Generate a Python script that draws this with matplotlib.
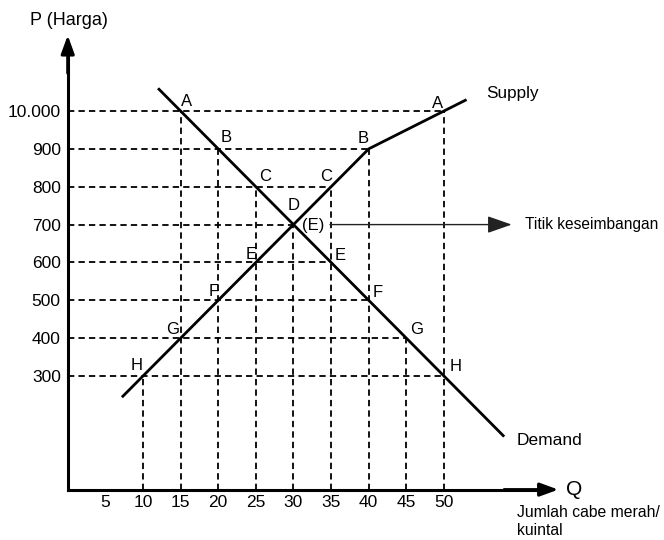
import matplotlib
matplotlib.use("Agg")
import matplotlib.pyplot as plt
from matplotlib import font_manager

# Data
qty_demand = [15, 20, 25, 30, 35, 40, 45, 50]
price_demand = [1000, 900, 800, 700, 600, 500, 400, 300]
labels_demand = ['A', 'B', 'C', 'D', 'E', 'F', 'G', 'H']
demand_ends_q = [12, 58]
demand_ends_p = [1060, 140]

qty_supply = [10, 15, 20, 25, 30, 35, 40, 50]
price_supply = [300, 400, 500, 600, 700, 800, 900, 1000]
labels_supply = ['H', 'G', 'F', 'E', '(E)', 'C', 'B', 'A']
supply_ends_q = [7.2, 53]
supply_ends_p = [244, 1030]

x_ticks = [5, 10, 15, 20, 25, 30, 35, 40, 45, 50]
y_ticks = [300, 400, 500, 600, 700, 800, 900, 1000]
y_ticklabels = ['300', '400', '500', '600', '700', '800', '900', '10.000']

eq_q, eq_p = 30, 700

# label offsets in pixels (styling only)
off_demand = [(6, 10), (8, 11), (9, 10), (0, 19), (9, 7), (9, 8), (10, 9), (12, 10)]
off_supply = [(-6, 11), (-8, 9), (-5, 9), (-5, 8), (20, -1), (-5, 10), (-6, 10), (-6, 8)]

names = {f.name for f in font_manager.fontManager.ttflist}
FONT = 'Liberation Sans Narrow' if 'Liberation Sans Narrow' in names else 'Liberation Sans'
plt.rcParams['font.family'] = [FONT, 'DejaVu Sans']

fig = plt.figure(figsize=(6.64, 5.4), dpi=100)
ax = fig.add_axes([0, 0, 1, 1])
ax.set_xlim(-9.0, 79.24)
ax.set_ylim(-133.1, 1293.2)

# axes with arrows
for s in ['top', 'right']:
    ax.spines[s].set_visible(False)
ax.spines['left'].set_position(('data', 0))
ax.spines['bottom'].set_position(('data', 0))
ax.spines['left'].set_bounds(0, 1170)
ax.spines['bottom'].set_bounds(0, 63)
ax.spines['left'].set_linewidth(2.2)
ax.spines['bottom'].set_linewidth(2.2)
arrow = dict(arrowstyle='-|>,head_length=0.55,head_width=0.2', color='k',
             lw=2.2, mutation_scale=20, shrinkA=0, shrinkB=0)
ax.annotate('', xy=(0, 1200), xytext=(0, 1100), arrowprops=arrow)
ax.annotate('', xy=(65.2, 0), xytext=(58, 0), arrowprops=arrow)

ax.set_xticks(x_ticks)
ax.set_xticklabels([str(v) for v in x_ticks])
ax.set_yticks(y_ticks)
ax.set_yticklabels(y_ticklabels)
ax.tick_params(axis='both', length=0, labelsize=12.5)
ax.tick_params(axis='x', pad=4)
ax.tick_params(axis='y', pad=5)

# dashed guide lines
dash = dict(color='k', lw=1.3, linestyle=(0, (3.5, 2.3)))
all_q = qty_demand + qty_supply
all_p = price_demand + price_supply
for p in sorted(set(all_p)):
    qmax = max(q for q, pp in zip(all_q, all_p) if pp == p)
    ax.plot([0, qmax], [p, p], **dash)
for q in sorted(set(all_q)):
    pmax = max(pp for qq, pp in zip(all_q, all_p) if qq == q)
    ax.plot([q, q], [0, pmax], **dash)

# demand and supply lines
dq = [demand_ends_q[0]] + qty_demand + [demand_ends_q[1]]
dp = [demand_ends_p[0]] + price_demand + [demand_ends_p[1]]
sq = [supply_ends_q[0]] + qty_supply + [supply_ends_q[1]]
sp = [supply_ends_p[0]] + price_supply + [supply_ends_p[1]]
ax.plot(dq, dp, color='k', lw=2.0, solid_capstyle='butt')
ax.plot(sq, sp, color='k', lw=2.0, solid_capstyle='butt', solid_joinstyle='miter')

for q, p, lab, off in zip(qty_demand, price_demand, labels_demand, off_demand):
    ax.annotate(lab, (q, p), xytext=off, textcoords='offset pixels',
                ha='center', va='center', fontsize=12)
for q, p, lab, off in zip(qty_supply, price_supply, labels_supply, off_supply):
    ax.annotate(lab, (q, p), xytext=off, textcoords='offset pixels',
                ha='center', va='center', fontsize=12)

# equilibrium arrow
ax.annotate('', xy=(59.0, eq_p), xytext=(34.85, eq_p),
            arrowprops=dict(arrowstyle='-|>,head_length=1.0,head_width=0.35',
                            color='#222222', lw=1.0, mutation_scale=15,
                            shrinkA=0, shrinkB=0))
ax.text(60.8, eq_p, 'Titik keseimbangan', ha='left', va='center', fontsize=11.2)

ax.text(55.6, 1047, 'Supply', ha='left', va='center', fontsize=12.3)
ax.text(59.7, 131, 'Demand', ha='left', va='center', fontsize=12.5)
ax.text(-5.0, 1240, 'P (Harga)', ha='left', va='center', fontsize=13)
ax.text(66.2, 0, 'Q', ha='left', va='center', fontsize=15)
ax.text(59.7, -84, 'Jumlah cabe merah/\nkuintal', ha='left', va='center',
        fontsize=11.3, linespacing=1.2)

fig.savefig('out.png', dpi=100)
